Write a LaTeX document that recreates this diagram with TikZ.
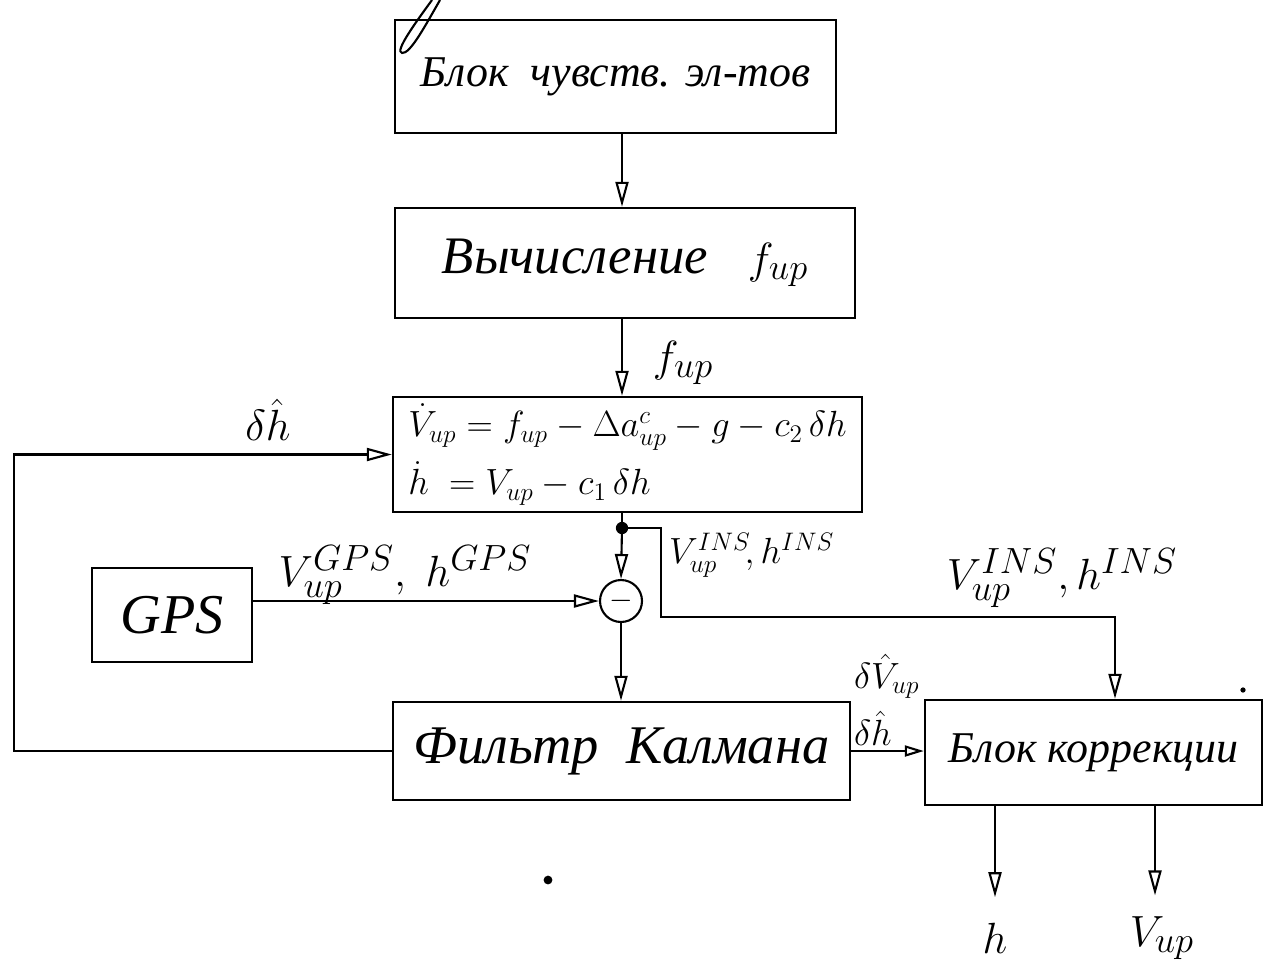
\documentclass[tikz,border=0pt]{standalone}
\usepackage{fontspec}
\setmainfont{Liberation Serif}
\usetikzlibrary{arrows.meta}
\begin{document}
\begin{tikzpicture}[x=0.02cm,y=-0.02cm, line width=1.2pt,
  box/.style={draw, line width=1.4pt, inner sep=0pt, font=\itshape},
  arr/.style={-{Triangle[open,length=0.5cm,width=0.26cm]}},
  arrs/.style={-{Triangle[open,length=0.38cm,width=0.22cm]}},
  lbl/.style={inner sep=0pt}]
\useasboundingbox (0,0) rectangle (1270,964);
% blocks
\node[box, minimum width=8.82cm, minimum height=2.26cm] (sens) at (615.5,76.5)
  {\fontsize{25}{30}\selectfont Блок\ \ чувств. эл-тов};
\node[box, minimum width=9.2cm, minimum height=2.2cm] (calc) at (625,263)
  {\fontsize{30}{34}\selectfont Вычисление\ \ \ $f_{up}$};
\node[box, minimum width=9.38cm, minimum height=2.3cm, align=left] (eq) at (627.5,454.5)
  {\fontsize{20.5}{25}\selectfont $\dot V_{up} = f_{up} - \Delta a^{c}_{up} - g - c_2\,\delta h$\\[5pt]
   \fontsize{20.5}{25}\selectfont $\dot h\; = V_{up} - c_1\,\delta h$};
\node[box, minimum width=3.2cm, minimum height=1.88cm] (gps) at (172,615)
  {\fontsize{32}{36}\selectfont GPS};
\node[draw, circle, line width=1.2pt, minimum size=0.84cm, inner sep=0pt] (circ) at (621,601)
  {\fontsize{16}{18}\selectfont $-$};
\node[box, minimum width=9.14cm, minimum height=1.96cm] (kal) at (621.5,751)
  {\fontsize{31}{36}\selectfont Фильтр\ \ Калмана};
\node[box, minimum width=6.74cm, minimum height=2.1cm] (korr) at (1093.5,752.5)
  {\fontsize{25}{30}\selectfont Блок коррекции};
% output labels
\node[lbl] (oh) at (995,938) {\fontsize{28}{32}\selectfont $h$};
\node[lbl] (ov) at (1162,938) {\fontsize{28}{32}\selectfont $V_{up}$};
% connection points
\coordinate (j) at (622,528);
\coordinate (kin) at (1115,0);
% connectors
\draw[arr] (sens.south -| 622,0) -- (calc.north -| 622,0);
\draw[arr] (calc.south -| 622,0) -- (eq.north -| 622,0);
\draw[arr] (kal.west) -- ++(-378,0) |- (eq.west);
\draw (eq.south -| j) -- (j);
\fill (j) circle (3.5pt);
\draw[arr] (j) -- (circ.north);
\draw[arr] (j) -| (661,617) -| (kin |- korr.north);
\draw[arr] (gps.east |- circ.west) -- (circ.west);
\draw[arr] (circ.south) -- (kal.north -| circ.south);
\draw[arrs] (kal.east) -- (kal.east -| korr.west);
\draw[arr, shorten >=14pt] (korr.south -| oh) -- (oh.north);
\draw[arr, shorten >=14pt] (korr.south -| 1155,0) -- (1155,920);
% labels
\node[lbl] (lf) at (683,363) {\fontsize{28}{32}\selectfont $f_{up}$};
\node[lbl] (ldh) at (268,420) {\fontsize{28}{32}\selectfont $\delta\hat h$};
\node[lbl] (lgps) at (405,575) {\fontsize{28}{32}\selectfont $V^{GPS}_{up},\ h^{GPS}$};
\node[lbl, anchor=west] (lins1) at (668,555) {\fontsize{22}{26}\selectfont $V_{up}^{INS}\!, h^{INS}$};
\node[lbl] (lins2) at (1062,578) {\fontsize{28}{32}\selectfont $V^{INS}_{up}, h^{INS}$};
\node[lbl, align=left, anchor=south west] (ldv) at (853,747)
  {\fontsize{22}{26}\selectfont $\delta\hat V_{up}$\\[6pt] \fontsize{22}{26}\selectfont $\delta\hat h$};
% stray marks of the original sheet
\draw (432,0) .. controls (416,22) and (394,52) .. (402,53) .. controls (410,54) and (424,28) .. (440,0);
\fill (548,880) circle (2.5pt);
\fill (1243,690) circle (1.5pt);
\end{tikzpicture}
\end{document}
